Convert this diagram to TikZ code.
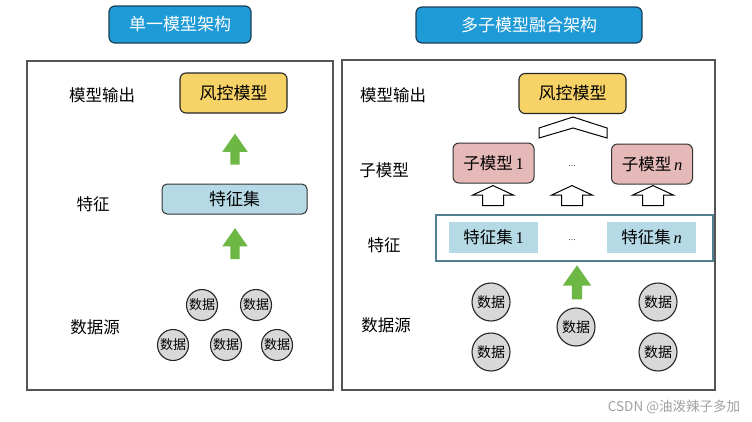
\documentclass[tikz,border=0pt]{standalone}
\usepackage{fontspec}
\setmainfont{Noto Sans CJK SC}
\newfontfamily\lat{Liberation Serif}
\usetikzlibrary{shapes.arrows}
\definecolor{titleblue}{HTML}{1E9AD6}
\definecolor{titleedge}{HTML}{1D3F57}
\definecolor{riskyellow}{HTML}{F7D266}
\definecolor{subpink}{HTML}{E5B9B8}
\definecolor{featblue}{HTML}{B6DAE5}
\definecolor{datagray}{HTML}{D8D8D8}
\definecolor{arrowgreen}{HTML}{6DB844}
\definecolor{panelgray}{HTML}{555555}
\definecolor{boxteal}{HTML}{4F7F90}
\definecolor{markgray}{HTML}{A0A0A0}
\tikzset{
  titlebox/.style={draw=titleedge, line width=1.2pt, fill=titleblue, rounded corners=6pt,
    text=white, font=\fontsize{17}{17}\selectfont, inner sep=0pt},
  panel/.style={draw=panelgray, line width=1.3pt, inner sep=0pt},
  lbl/.style={font=\fontsize{16.5}{16.5}\selectfont, inner sep=0pt},
  riskbox/.style={draw=black!85, line width=1.1pt, fill=riskyellow, rounded corners=6pt,
    minimum width=107pt, minimum height=40pt, font=\fontsize{17}{17}\selectfont, inner sep=0pt},
  featsingle/.style={draw=black!80, line width=1pt, fill=featblue, rounded corners=5pt,
    minimum width=145pt, minimum height=30pt, font=\fontsize{17}{17}\selectfont, inner sep=0pt},
  subbox/.style={draw=black!80, line width=1pt, fill=subpink, rounded corners=6pt,
    minimum width=81pt, minimum height=40pt, font=\fontsize{16.5}{16.5}\selectfont, inner sep=0pt},
  fsbox/.style={fill=featblue, minimum width=89pt, minimum height=31pt,
    font=\fontsize{16.5}{16.5}\selectfont, inner sep=0pt},
  outerfeat/.style={draw=boxteal, line width=1.3pt, fill=white, minimum width=277pt,
    minimum height=46pt, inner sep=0pt},
  datacirc/.style={circle, draw=black!85, line width=1.1pt, fill=datagray,
    font=\fontsize{13}{13}\selectfont, inner sep=0pt},
  greenarrow/.style={single arrow, fill=arrowgreen, rotate=90, inner xsep=0pt, inner ysep=4.5pt,
    single arrow head extend=8pt, single arrow tip angle=70},
  hollowarrow/.style={single arrow, draw=black, fill=white, line width=1pt, rotate=90,
    inner xsep=0pt, inner ysep=10pt, minimum height=20pt,
    single arrow head extend=10pt, single arrow tip angle=130},
  dots/.style={font=\lat\fontsize{10}{10}\selectfont, text=black!70, inner sep=0pt}
}
\begin{document}
\begin{tikzpicture}[x=1pt,y=-1pt]
\useasboundingbox[fill=white] (0,0) rectangle (752,421);
% ---------- left: single model ----------
\node[titlebox, minimum width=142pt, minimum height=37pt] (t1) at (180,24.5) {单一模型架构};
\node[panel, minimum width=306pt, minimum height=329pt] (p1) at (180,225.5) {};
\node[lbl] (l1a) at (102,95) {模型输出};
\node[lbl] (l1b) at (93,204) {特征};
\node[lbl] (l1c) at (95,327) {数据源};
\node[riskbox] (r1) at (233.5,93) {风控模型};
\node[featsingle] (f1) at (234.5,199) {特征集};
\node[greenarrow, minimum height=31pt] (g1) at (235,152.5) {};
\node[greenarrow, minimum height=31pt] (g2) at (235,247) {};
\node[datacirc, minimum size=31pt] (d1) at (202,305) {数据};
\node[datacirc, minimum size=31pt] (d2) at (256,305) {数据};
\node[datacirc, minimum size=31pt] (d3) at (173,345) {数据};
\node[datacirc, minimum size=31pt] (d4) at (226,345) {数据};
\node[datacirc, minimum size=31pt] (d5) at (277,345) {数据};
% ---------- right: multi sub-model fusion ----------
\node[titlebox, minimum width=226pt, minimum height=36pt] (t2) at (529,25) {多子模型融合架构};
\node[panel, minimum width=373pt, minimum height=330pt] (p2) at (528.5,225) {};
\node[lbl] (l2a) at (393,95) {模型输出};
\node[lbl] (l2b) at (384,170) {子模型};
\node[lbl] (l2c) at (384,245) {特征};
\node[lbl] (l2d) at (386,325) {数据源};
\node[riskbox] (r2) at (572.5,93.5) {风控模型};
\draw[line width=1pt, fill=white] (539,128) -- (573,117) -- (607,128) -- (607,138)
  -- (573,128) -- (539,138) -- cycle;
\node[subbox] (s1) at (493.5,163) {子模型\,{\lat 1}};
\node[dots] (sd) at (572,166) {...};
\node[subbox] (sn) at (652,164) {子模型\,{\lat\itshape n}};
\node[hollowarrow] (h1) at (493,198) {};
\node[hollowarrow] (h2) at (572,198) {};
\node[hollowarrow] (h3) at (653,198) {};
\node[outerfeat] (fo) at (574.5,238) {};
\node[fsbox] (fs1) at (493.5,237.5) {特征集\,{\lat 1}};
\node[dots] (fd) at (572,240) {...};
\node[fsbox] (fsn) at (651.5,237.5) {特征集\,{\lat\itshape n}};
\node[greenarrow, minimum height=34pt, inner ysep=5pt, single arrow head extend=9pt] (g3) at (577,286) {};
\node[datacirc, minimum size=38pt, font=\fontsize{14}{14}\selectfont] (e1) at (491,302) {数据};
\node[datacirc, minimum size=38pt, font=\fontsize{14}{14}\selectfont] (e2) at (491,352) {数据};
\node[datacirc, minimum size=38pt, font=\fontsize{14}{14}\selectfont] (e3) at (576,327) {数据};
\node[datacirc, minimum size=38pt, font=\fontsize{14}{14}\selectfont] (e4) at (658,302) {数据};
\node[datacirc, minimum size=38pt, font=\fontsize{14}{14}\selectfont] (e5) at (658,352) {数据};
% ---------- watermark ----------
\node[font=\fontsize{13.5}{13.5}\selectfont, text=markgray, inner sep=0pt] (wm) at (674,407) {CSDN @油泼辣子多加};
\end{tikzpicture}
\end{document}
